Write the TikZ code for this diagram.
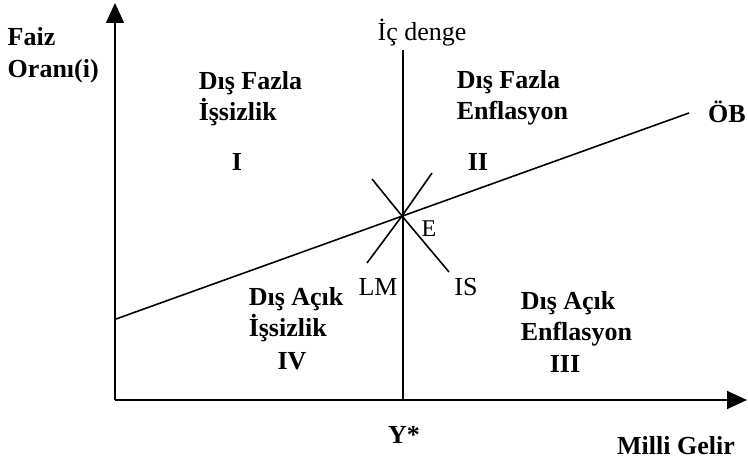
\documentclass[tikz,border=0pt]{standalone}
\usepackage{fontspec}
\setmainfont{Liberation Serif}
\usetikzlibrary{arrows.meta, positioning}
\tikzset{
  every picture/.style={line width=1.5pt},
  axis/.style={-{Triangle[length=20pt, width=18pt]}, line width=1.6pt},
  curve/.style={line width=1.6pt},
  lbl/.style={font=\fontsize{26}{31}\selectfont\bfseries, align=left, inner sep=0pt},
  tag/.style={font=\fontsize{26}{30}\selectfont, inner sep=0pt},
}

\begin{document}
\begin{tikzpicture}[x=1pt, y=-1pt]
  \useasboundingbox (0,0) rectangle (748,465);
  % axes
  \coordinate (O) at (115,400);
  \coordinate (ytop) at (115,3);
  \coordinate (xend) at (747,400);
  \draw[axis] (O) -- (ytop);
  \draw[axis] (O) -- (xend);
  \node[lbl, anchor=west] (faiz) at (7,37) {Faiz};
  \node[lbl, anchor=west] (oran) at (7,71) {Oranı(i)};
  \node[lbl] (gelir) at (676,446) {Milli Gelir};
  % internal balance
  \coordinate (ictop) at (403,50);
  \coordinate (ystar) at (403,400);
  \draw[curve] (ystar) -- (ictop);
  \node[tag] (icd) at (422,33) {İç denge};
  \node[lbl] (ys) at (404,435) {Y*};
  % external balance
  \coordinate (ob1) at (116,319);
  \coordinate (ob2) at (689,113);
  \draw[curve] (ob1) -- (ob2);
  \node[lbl] (ob) at (727,112) {ÖB};
  % LM and IS through E
  \coordinate (E) at (402,216);
  \coordinate (lm1) at (367,263);
  \coordinate (lm2) at (432,173);
  \coordinate (is1) at (372,179);
  \coordinate (is2) at (449,272);
  \draw[curve] (lm1) -- (E) -- (lm2);
  \draw[curve] (is1) -- (E) -- (is2);
  \node[tag, font=\fontsize{24}{28}\selectfont] (e) at (429,229) {E};
  \node[tag] (lm) at (378,287) {LM};
  \node[tag] (is) at (466,287) {IS};
  % regions
  \node[lbl, anchor=west] (r1) at (198,99) {Dış Fazla\\İşsizlik};
  \node[lbl] (n1) at (237,162) {I};
  \node[lbl, anchor=west] (r2) at (456,98) {Dış Fazla\\Enflasyon};
  \node[lbl] (n2) at (478,162) {II};
  \node[lbl, anchor=west] (r4) at (248,315) {Dış Açık\\İşsizlik};
  \node[lbl] (n4) at (292,361) {IV};
  \node[lbl, anchor=west] (r3) at (520,319) {Dış Açık\\Enflasyon};
  \node[lbl] (n3) at (565,364) {III};
\end{tikzpicture}
\end{document}
